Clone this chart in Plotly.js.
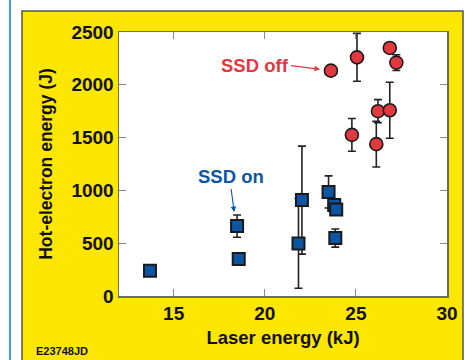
<!DOCTYPE html>
<html>
<head>
<meta charset="utf-8">
<script src="https://cdn.plot.ly/plotly-3.0.1.min.js"></script>
<style>
html,body{margin:0;padding:0;background:#fff;}
#chart{width:468px;height:360px;}
</style>
</head>
<body>
<div id="chart"></div>
<script>
// SSD on (squares)
const onX   = [13.7, 18.48, 18.57, 21.85, 22.04, 23.5, 23.81, 23.92, 23.87];
const onY   = [240,  662,   350,   498,   908,   986,  861,   820,   549];
const onErr = [0,    105,   40,    425,   511,   152,  0,     0,     86];
// SSD off (circles)
const offX   = [23.63, 25.06, 24.78, 26.12, 26.21, 26.86, 26.86, 27.22];
const offY   = [2134,  2260,  1526,  1438,  1750,  1759,  2349,  2210];
const offErr = [0,     227,   155,   216,   110,   265,   0,     75];

const xTicks = [15, 20, 25, 30];
const yTicks = [0, 500, 1000, 1500, 2000, 2500];

const L = 119, R = 21, T = 32, B = 64;
const W = 468, H = 360;
const pw = W - L - R, ph = H - T - B;
const px = v => (v - L) / pw;
const py = v => (H - B - v) / ph;
const FF = 'Liberation Sans, Arial, sans-serif';

const traces = [
  {
    x: onX, y: onY, type: 'scatter', mode: 'markers', name: 'SSD on',
    error_y: {type: 'data', array: onErr, visible: true, color: '#222', thickness: 1.6, width: 4},
    marker: {symbol: 'square', size: 12, color: '#0b55a5', line: {color: '#1a1a1a', width: 2}}
  },
  {
    x: offX, y: offY, type: 'scatter', mode: 'markers', name: 'SSD off',
    error_y: {type: 'data', array: offErr, visible: true, color: '#222', thickness: 1.6, width: 4},
    marker: {symbol: 'circle', size: 13, color: '#e2383f', line: {color: '#1a1a1a', width: 1.6}}
  }
];

const axisCommon = {
  showgrid: false, zeroline: false, ticks: 'inside', ticklen: 7, tickwidth: 1.2,
  tickcolor: '#888', showline: true, linecolor: '#6a6a6a', linewidth: 1.5, mirror: 'allticks',
  tickfont: {family: FF, size: 19, color: '#111', weight: 'bold'}
};

const layout = {
  width: W, height: H,
  margin: {l: L, r: R, t: T, b: B},
  paper_bgcolor: '#ffffff',
  plot_bgcolor: '#ffffff',
  showlegend: false,
  font: {family: FF},
  xaxis: Object.assign({}, axisCommon, {
    range: [12, 30], tickvals: xTicks, ticktext: xTicks.map(String),
    title: {text: '<b>Laser energy (kJ)</b>', standoff: 8, font: {family: FF, size: 18.5, color: '#111'}}
  }),
  yaxis: Object.assign({}, axisCommon, {
    range: [0, 2500], tickvals: yTicks, ticktext: yTicks.map(String),
    title: {text: '<b>Hot-electron energy (J)</b>', standoff: 14, font: {family: FF, size: 17.5, color: '#111'}}
  }),
  shapes: [
    {type: 'line', xref: 'paper', yref: 'paper', x0: px(10), x1: px(10), y0: py(-5), y1: py(365),
     line: {color: '#3fa0dc', width: 2}, layer: 'below'},
    {type: 'rect', xref: 'paper', yref: 'paper', x0: px(22), x1: px(463), y0: py(366), y1: py(11),
     fillcolor: '#fde600', line: {color: '#555', width: 1.5}, layer: 'below'},
    {type: 'rect', xref: 'paper', yref: 'paper', x0: 0, x1: 1, y0: 0, y1: 1,
     fillcolor: '#ffffff', line: {width: 0}, layer: 'below'}
  ],
  annotations: [
    {x: 23.63, y: 2134, xref: 'x', yref: 'y', ax: -40, ay: -5, axref: 'pixel', ayref: 'pixel',
     text: '<b>SSD off</b>', showarrow: true, arrowhead: 2, arrowsize: 1, arrowwidth: 1.1,
     arrowcolor: '#e2383f', standoff: 11, startstandoff: 0, xanchor: 'right',
     font: {size: 18.5, color: '#e2383f', family: FF}},
    {x: 18.32, y: 795, xref: 'x', yref: 'y', ax: -3, ay: -23, axref: 'pixel', ayref: 'pixel',
     text: '<b>SSD on</b>', showarrow: true, arrowhead: 2, arrowsize: 1, arrowwidth: 1.1,
     arrowcolor: '#0b55a5', standoff: 0, yanchor: 'bottom',
     font: {size: 18.5, color: '#0b55a5', family: FF}},
    {xref: 'paper', yref: 'paper', x: px(34), y: py(351), xanchor: 'left', yanchor: 'middle',
     text: '<b>E23748JD</b>', showarrow: false,
     font: {size: 11, color: '#111', family: FF}}
  ]
};

Plotly.newPlot('chart', traces, layout, {displayModeBar: false, staticPlot: true});
</script>
</body>
</html>
